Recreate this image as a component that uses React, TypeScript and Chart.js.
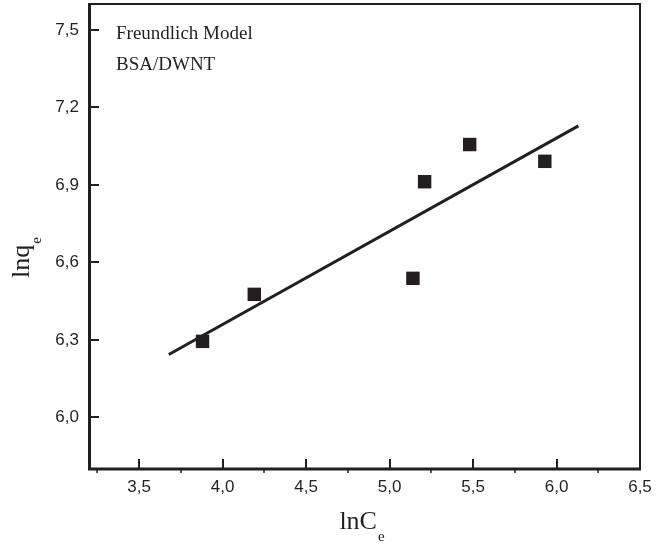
import React, { useEffect, useRef } from "react";
import { Chart, registerables } from "chart.js";

Chart.register(...registerables);

// ---- data ----
const lnCe = [3.88, 4.19, 5.14, 5.21, 5.48, 5.93];
const lnQe = [6.294, 6.476, 6.538, 6.912, 7.056, 6.991];
const fitX = [3.678, 6.131];
const fitY = [6.243, 7.128];
const xTicks = [3.5, 4.0, 4.5, 5.0, 5.5, 6.0, 6.5];
const xMinorTicks = [3.25, 3.75, 4.25, 4.75, 5.25, 5.75, 6.25];
const yTicks = [6.0, 6.3, 6.6, 6.9, 7.2, 7.5];
const annotationLines = ["Freundlich Model", "BSA/DWNT"];
const xTitle = ["lnC", "e"];
const yTitle = ["lnq", "e"];

const INK = "#231f20";
const SERIF = "'Liberation Serif', 'Times New Roman', serif";
const SANS = "'Liberation Sans', Arial, sans-serif";

const fmt = (v: number) => v.toFixed(1).replace(".", ",");

const framePlugin = {
  id: "frame",
  afterDraw(chart: any) {
    const { ctx, chartArea } = chart;
    const { left, right, top, bottom } = chartArea;
    const xs = chart.scales.x;
    const ys = chart.scales.y;
    ctx.save();
    ctx.strokeStyle = INK;
    ctx.fillStyle = INK;
    ctx.lineCap = "butt";

    // top & right borders (thinner)
    ctx.lineWidth = 2;
    ctx.beginPath();
    ctx.moveTo(left, top);
    ctx.lineTo(right, top);
    ctx.moveTo(right, top - 1);
    ctx.lineTo(right, bottom);
    ctx.stroke();

    // left & bottom axes (thicker)
    ctx.lineWidth = 3;
    ctx.beginPath();
    ctx.moveTo(left + 0.5, top - 1);
    ctx.lineTo(left + 0.5, bottom + 1.5);
    ctx.moveTo(left - 1, bottom);
    ctx.lineTo(right + 1, bottom);
    ctx.stroke();

    // major ticks (inward)
    ctx.lineWidth = 2;
    ctx.beginPath();
    for (const v of xTicks) {
      const px = Math.round(xs.getPixelForValue(v));
      if (px >= right - 1) continue;
      ctx.moveTo(px, bottom);
      ctx.lineTo(px, bottom - 10);
    }
    for (const v of yTicks) {
      const py = Math.round(ys.getPixelForValue(v));
      ctx.moveTo(left, py);
      ctx.lineTo(left + 10, py);
    }
    ctx.stroke();

    // minor ticks on x (outward)
    ctx.lineWidth = 1.5;
    ctx.beginPath();
    for (const v of xMinorTicks) {
      const px = Math.round(xs.getPixelForValue(v));
      ctx.moveTo(px, bottom);
      ctx.lineTo(px, bottom + 4);
    }
    ctx.stroke();

    // annotation text
    ctx.font = `19px ${SERIF}`;
    ctx.textAlign = "left";
    ctx.textBaseline = "alphabetic";
    ctx.fillText(annotationLines[0], 116, 39);
    ctx.fillText(annotationLines[1], 116, 70);

    // x title with subscript
    ctx.font = `26px ${SERIF}`;
    const xMain = xTitle[0];
    const wMain = ctx.measureText(xMain).width;
    ctx.font = `15px ${SERIF}`;
    const wSub = ctx.measureText(xTitle[1]).width;
    const cx = (left + right) / 2 - 3;
    const startX = cx - (wMain + wSub) / 2;
    ctx.font = `26px ${SERIF}`;
    ctx.fillText(xMain, startX, 529);
    ctx.font = `15px ${SERIF}`;
    ctx.fillText(xTitle[1], startX + wMain + 1, 541);

    // y title with subscript (rotated)
    ctx.save();
    ctx.font = `26px ${SERIF}`;
    const yMain = yTitle[0];
    const wyMain = ctx.measureText(yMain).width;
    ctx.font = `15px ${SERIF}`;
    const wySub = ctx.measureText(yTitle[1]).width;
    const cy = 258;
    ctx.translate(29, cy);
    ctx.rotate(-Math.PI / 2);
    const sx = -(wyMain + wySub) / 2;
    ctx.font = `26px ${SERIF}`;
    ctx.fillText(yMain, sx, 0);
    ctx.font = `15px ${SERIF}`;
    ctx.fillText(yTitle[1], sx + wyMain + 1, 12);
    ctx.restore();

    ctx.restore();
  },
};

export default function App() {
  const canvasRef = useRef<HTMLCanvasElement | null>(null);

  useEffect(() => {
    if (!canvasRef.current) return;
    const chart = new Chart(canvasRef.current, {
      type: "scatter",
      data: {
        datasets: [
          {
            label: "data",
            data: lnCe.map((x, i) => ({ x, y: lnQe[i] })),
            pointStyle: "rect",
            pointRadius: 9.5,
            pointHoverRadius: 9.5,
            backgroundColor: INK,
            borderColor: INK,
            borderWidth: 0,
          },
          {
            label: "fit",
            data: fitX.map((x, i) => ({ x, y: fitY[i] })),
            showLine: true,
            borderColor: INK,
            borderWidth: 3,
            pointRadius: 0,
            pointHoverRadius: 0,
            fill: false,
          },
        ],
      },
      options: {
        animation: false,
        responsive: true,
        maintainAspectRatio: false,
        layout: {
          autoPadding: false,
          padding: { left: 0, top: 4, right: 30, bottom: 0 },
        },
        plugins: {
          legend: { display: false },
          tooltip: { enabled: false },
        },
        scales: {
          x: {
            type: "linear",
            min: 3.2,
            max: 6.5,
            grid: { display: false, drawTicks: false },
            border: { display: false },
            afterBuildTicks: (s: any) => {
              s.ticks = xTicks.map((v) => ({ value: v }));
            },
            afterFit: (s: any) => {
              s.height = 78;
              s.paddingLeft = 0;
              s.paddingRight = 0;
              s.paddingTop = 0;
              s.paddingBottom = 0;
            },
            ticks: {
              padding: 8,
              color: INK,
              font: { family: SANS, size: 17 },
              maxRotation: 0,
              autoSkip: false,
              callback: (v: any) => fmt(Number(v)),
            },
          },
          y: {
            type: "linear",
            min: 5.8,
            max: 7.6,
            grid: { display: false, drawTicks: false },
            border: { display: false },
            afterBuildTicks: (s: any) => {
              s.ticks = yTicks.map((v) => ({ value: v }));
            },
            afterFit: (s: any) => {
              s.width = 89;
              s.paddingTop = 0;
              s.paddingBottom = 0;
              s.paddingLeft = 0;
              s.paddingRight = 0;
            },
            ticks: {
              padding: 10,
              color: INK,
              font: { family: SANS, size: 17 },
              autoSkip: false,
              callback: (v: any) => fmt(Number(v)),
            },
          },
        },
      },
      plugins: [framePlugin],
    });
    return () => chart.destroy();
  }, []);

  return (
    <div
      style={{
        position: "absolute",
        left: 0,
        top: 0,
        width: 670,
        height: 547,
        background: "#fff",
      }}
    >
      <canvas ref={canvasRef} />
    </div>
  );
}
